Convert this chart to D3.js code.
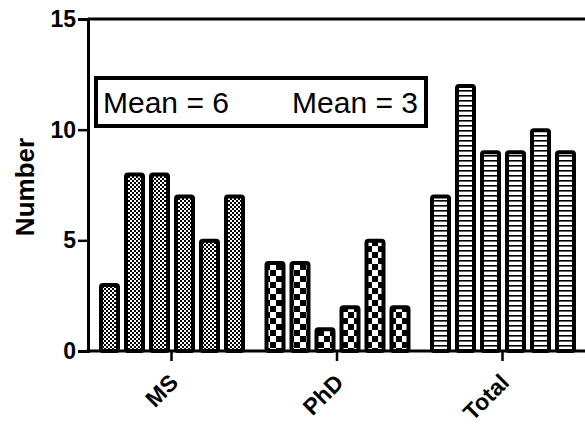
<!DOCTYPE html>
<html>
<head>
<meta charset="utf-8">
<script src="https://cdn.jsdelivr.net/npm/d3@7"></script>
<style>
body { margin: 0; background: #fff; }
text { font-family: Arial, "Liberation Sans", sans-serif; }
</style>
</head>
<body>
<div id="chart-area"></div>
<script>
// data
var groups = ["MS", "PhD", "Total"];
var msValues = [3, 8, 8, 7, 5, 7];
var phdValues = [4, 4, 1, 2, 5, 2];
var totalValues = [7, 12, 9, 9, 10, 9];
var yTicks = [0, 5, 10, 15];
var legendLabels = ["Mean = 6", "Mean = 3"];

var seriesValues = [msValues, phdValues, totalValues];

var width = 585, height = 426;

var svg = d3.select("#chart-area").append("svg")
  .attr("width", width)
  .attr("height", height);

// patterns
var defs = svg.append("defs");

var p1 = defs.append("pattern").attr("id", "pat-ms")
  .attr("patternUnits", "userSpaceOnUse").attr("width", 4).attr("height", 4);
p1.append("rect").attr("width", 4).attr("height", 4).attr("fill", "#fff");
p1.append("rect").attr("width", 2).attr("height", 2).attr("fill", "#000");
p1.append("rect").attr("x", 2).attr("y", 2).attr("width", 2).attr("height", 2).attr("fill", "#000");

var p2 = defs.append("pattern").attr("id", "pat-phd")
  .attr("patternUnits", "userSpaceOnUse").attr("width", 12).attr("height", 12);
p2.append("rect").attr("width", 12).attr("height", 12).attr("fill", "#fff");
p2.append("rect").attr("width", 6).attr("height", 6).attr("fill", "#000");
p2.append("rect").attr("x", 6).attr("y", 6).attr("width", 6).attr("height", 6).attr("fill", "#000");

var p3 = defs.append("pattern").attr("id", "pat-total")
  .attr("patternUnits", "userSpaceOnUse").attr("width", 5).attr("height", 5);
p3.append("rect").attr("width", 5).attr("height", 5).attr("fill", "#fff");
p3.append("rect").attr("y", 0).attr("width", 5).attr("height", 1.6).attr("fill", "#000");

var patterns = ["url(#pat-ms)", "url(#pat-phd)", "url(#pat-total)"];

// scales
var x = d3.scaleBand()
  .domain(groups)
  .range([88.75, 585.25])
  .padding(0);

var xInner = d3.scaleBand()
  .domain(d3.range(6))
  .range([-75, 75])
  .paddingInner(0.2)
  .paddingOuter(0.1);

var y = d3.scaleLinear()
  .domain([0, 15])
  .range([351, 19]);

// bars
groups.forEach(function(gName, gi) {
  var cx = x(gName) + x.bandwidth() / 2;
  svg.append("g")
    .selectAll("rect")
    .data(seriesValues[gi])
    .enter().append("rect")
    .attr("x", function(d, i) { return cx + xInner(i) + 2; })
    .attr("y", function(d) { return y(d) + 0.5; })
    .attr("width", xInner.bandwidth() - 3)
    .attr("height", function(d) { return y(0) - y(d) - 0.5; })
    .attr("rx", 2)
    .attr("fill", patterns[gi])
    .attr("stroke", "#000")
    .attr("stroke-width", 4);
});

// top frame line
svg.append("line")
  .attr("x1", 88).attr("x2", width)
  .attr("y1", y(15)).attr("y2", y(15))
  .attr("stroke", "#000").attr("stroke-width", 3);

// y axis
var yAxis = svg.append("g")
  .attr("transform", "translate(88,0)")
  .call(d3.axisLeft(y).tickValues(yTicks).tickSize(10).tickPadding(2));
yAxis.select(".domain").attr("stroke-width", 3);
yAxis.selectAll(".tick line").attr("stroke-width", 2.5);
yAxis.selectAll(".tick text")
  .attr("font-size", "23px").attr("font-weight", "bold").attr("fill", "#000")
  .attr("font-family", "Arial, 'Liberation Sans', sans-serif");

// x axis
var xAxis = svg.append("g")
  .attr("transform", "translate(0," + y(0) + ")")
  .call(d3.axisBottom(x).tickSize(10).tickSizeOuter(0).tickFormat(""));
xAxis.select(".domain").attr("stroke-width", 3).attr("d", "M86.5,0H" + width);
xAxis.selectAll(".tick line").attr("stroke-width", 2.5);

groups.forEach(function(gName) {
  var cx = x(gName) + x.bandwidth() / 2;
  svg.append("text")
    .attr("transform", "translate(" + (cx + 8) + "," + (y(0) + 33) + ") rotate(-45)")
    .attr("text-anchor", "end")
    .attr("font-size", "23px")
    .attr("font-weight", "bold")
    .text(gName);
});

// y label
svg.append("text")
  .attr("transform", "translate(34," + 187 + ") rotate(-90)")
  .attr("text-anchor", "middle")
  .attr("font-size", "26px")
  .attr("font-weight", "bold")
  .text("Number");

// legend box
var legend = svg.append("g");
legend.append("rect")
  .attr("x", 96).attr("y", 78)
  .attr("width", 330).attr("height", 48)
  .attr("fill", "#fff")
  .attr("stroke", "#000").attr("stroke-width", 4);

legend.append("text")
  .attr("x", 103).attr("y", 113)
  .attr("font-size", "30px")
  .text(legendLabels[0]);
legend.append("text")
  .attr("x", 418).attr("y", 113)
  .attr("text-anchor", "end")
  .attr("font-size", "30px")
  .text(legendLabels[1]);
</script>
</body>
</html>
